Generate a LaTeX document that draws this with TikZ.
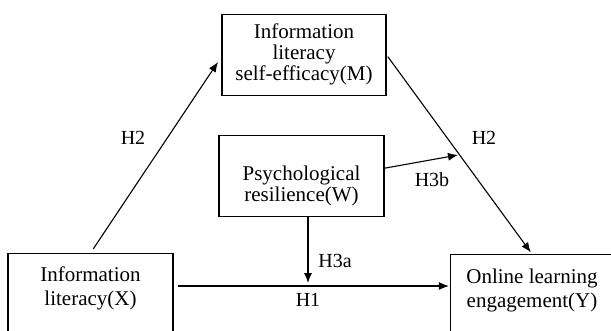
\documentclass[tikz,border=0pt]{standalone}
\usepackage{fontspec}
\setmainfont{Liberation Serif}
\usetikzlibrary{arrows.meta,calc}
\begin{document}
\begin{tikzpicture}[x=1pt,y=-1pt,
  box/.style={draw, line width=1.2pt, align=center, inner sep=0pt, font=\fontsize{21}{21}\selectfont},
  tallbox/.style={box, minimum height=100pt, anchor=north, font=\fontsize{21}{24}\selectfont},
  lab/.style={inner sep=0pt, font=\fontsize{20}{22}\selectfont},
  conn/.style={line width=1.1pt, -{Latex[length=10pt,width=8pt]}}]
\useasboundingbox (0,0) rectangle (611,330);
\clip (0,0) rectangle (611,330);
\node[box, minimum width=164pt, minimum height=81.5pt, text height=56pt, text depth=6pt] (M) at (304,55) {Information\\literacy\\self-efficacy(M)};
\node[box, minimum width=165pt, minimum height=81pt, text height=52pt, text depth=2.4pt] (W) at (301.5,176.2) {Psychological\\resilience(W)};
\node[tallbox, minimum width=165pt, text depth=34pt] (X) at (90.5,253) {Information\\literacy(X)};
\node[tallbox, minimum width=163pt, text depth=32pt] (Y) at (532,254) {Online learning\\engagement(Y)};
\coordinate (mIn) at (218,62);
\coordinate (h3bTip) at (458,155);
\coordinate (hit) at (308,283);
\coordinate (hline) at (0,286);
\draw[conn, shorten <=5pt] (X.north) -- (mIn);
\draw[conn, shorten <=2pt, shorten >=2pt] (M.east) -- (Y.north);
\draw[conn] ([yshift=8pt]W.east) -- (h3bTip);
\draw[conn] (W.south -| hit) -- (hit);
\draw[conn] ($(X.east |- hline)+(4,0)$) -- ($(Y.west |- hline)+(-1,0)$);
\node[lab] (lH2a) at (133,138) {H2};
\node[lab] (lH2b) at (484,138) {H2};
\node[lab] (lH3b) at (432,180) {H3b};
\node[lab] (lH3a) at (335,261) {H3a};
\node[lab] (lH1) at (308,300) {H1};
\end{tikzpicture}
\end{document}
